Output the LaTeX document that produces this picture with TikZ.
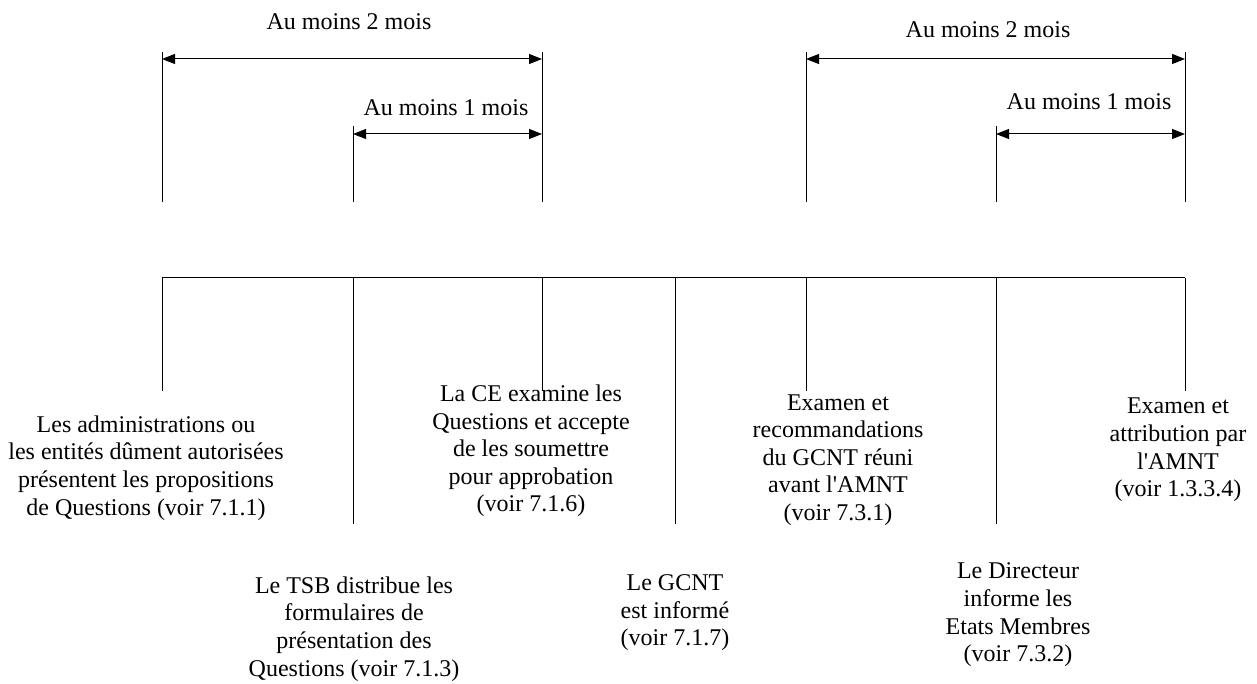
\documentclass[tikz,border=0pt]{standalone}
\usepackage{fontspec}
\setmainfont{Liberation Serif}
\usetikzlibrary{arrows.meta}

\tikzset{
  txt/.style={font=\fontsize{24}{27.6}\selectfont, align=center, inner sep=0pt},
  span/.style={<->, >={Triangle[length=13pt,width=10pt]}},
}

\begin{document}
\begin{tikzpicture}[x=1pt, y=-1pt, line width=1pt]
\useasboundingbox (0,0) rectangle (1257,684);

% timeline and its drops
\foreach \n/\x/\y in {1/162/391, 2/353/524, 3/542/391, 4/675/524, 5/806/391, 6/996/524, 7/1185/391}{
  \coordinate (t\n) at (\x,278);
  \coordinate (b\n) at (\x,\y);
  \draw (t\n) -- (b\n);
}
\draw (t1) -- (t7);

% upper marks
\foreach \n/\x/\y in {1/162/52, 2/353/126, 3/542/52, 5/806/52, 6/996/126, 7/1185/52}{
  \coordinate (u\n) at (\x,\y);
  \coordinate (d\n) at (\x,202);
  \draw (u\n) -- (d\n);
}

% spans
\coordinate (a1) at (162,59);
\coordinate (a3) at (542,59);
\coordinate (c2) at (353,134);
\coordinate (c3) at (542,134);
\coordinate (a5) at (806,59);
\coordinate (a7) at (1185,59);
\coordinate (c6) at (996,134);
\coordinate (c7) at (1185,134);
\draw[span] (a1) -- (a3);
\draw[span] (c2) -- (c3);
\draw[span] (a5) -- (a7);
\draw[span] (c6) -- (c7);

\node[txt] (deuxL) at (349,22) {Au moins 2 mois};
\node[txt] (unL) at (446,108) {Au moins 1 mois};
\node[txt] (deuxR) at (988,30) {Au moins 2 mois};
\node[txt] (unR) at (1089,102) {Au moins 1 mois};

% steps
\node[txt] (adm) at (146,468) {Les administrations ou\\les entités dûment autorisées\\présentent les propositions\\de Questions (voir 7.1.1)};
\node[txt] (tsb) at (354,629) {Le TSB distribue les\\formulaires de\\présentation des\\Questions (voir 7.1.3)};
\node[txt] (ce) at (531,451) {La CE examine les\\Questions et accepte\\de les soumettre\\pour approbation\\(voir 7.1.6)};
\node[txt] (gcnt) at (675,613) {Le GCNT\\est informé\\(voir 7.1.7)};
\node[txt] (rec) at (838,460) {Examen et\\recommandations\\du GCNT réuni\\avant l\textquotesingle AMNT\\(voir 7.3.1)};
\node[txt] (dir) at (1018,615) {Le Directeur\\informe les\\Etats Membres\\(voir 7.3.2)};
\node[txt] (amnt) at (1178,450) {Examen et\\attribution par\\l\textquotesingle AMNT\\(voir 1.3.3.4)};
\end{tikzpicture}
\end{document}
